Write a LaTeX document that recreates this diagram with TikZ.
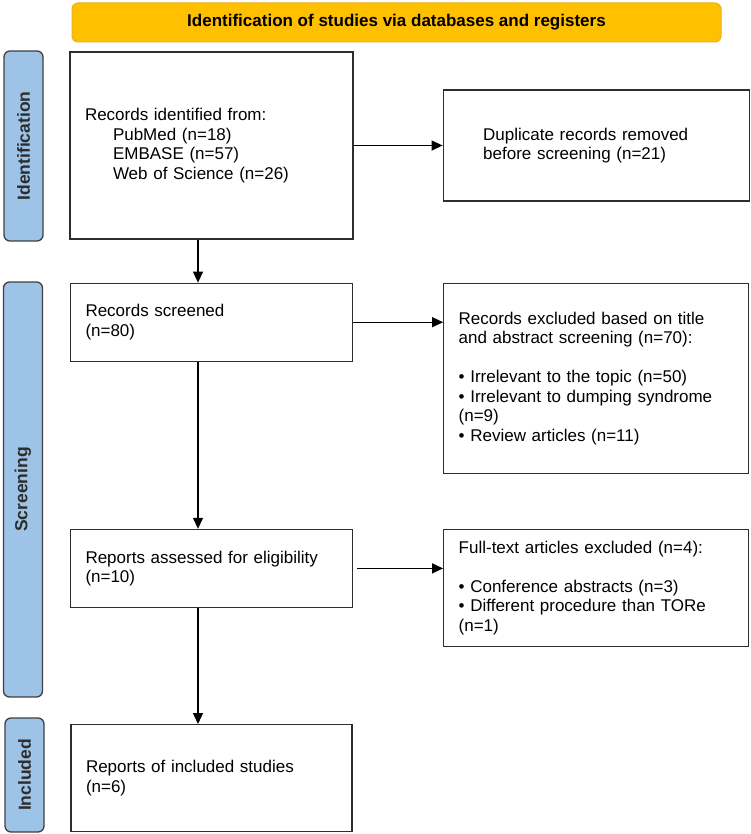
\documentclass[tikz,border=0pt]{standalone}
\usepackage{fontspec}
\setmainfont{Liberation Sans}
\usetikzlibrary{positioning,arrows.meta}
\definecolor{banner}{RGB}{255,192,0}
\definecolor{bannerline}{RGB}{236,176,30}
\definecolor{phasefill}{RGB}{157,195,230}
\definecolor{phaseline}{RGB}{64,64,64}
\definecolor{ink}{RGB}{45,45,45}

\begin{document}
\begin{tikzpicture}[x=1pt, y=-1pt,
    box/.style={draw=ink, line width=1.2pt, align=left, inner xsep=15pt, inner ysep=4pt,
                font=\fontsize{17}{19.5}\selectfont},
    phase/.style={draw=phaseline, fill=phasefill, line width=1.3pt, rounded corners=6pt, rotate=90,
                  minimum height=39pt, inner sep=0pt, font=\fontsize{17.5}{20}\selectfont\bfseries, text=ink},
    arr/.style={line width=1.3pt, color=black, -{Triangle[length=11pt,width=10pt]}}]
  \useasboundingbox (0,0) rectangle (751,834);
  \node[draw=bannerline, fill=banner, line width=1pt, rounded corners=6pt, minimum width=649pt,
        minimum height=39pt, font=\fontsize{17}{20}\selectfont\bfseries] (top) at (396.5,22.5)
        {Identification of studies via databases and registers};
  \node[phase, minimum width=190pt] (pid) at (23.5,146) {Identification};
  \node[phase, minimum width=415pt] (psc) at (23,489.5) {Screening};
  \node[phase, minimum width=114pt] (pin) at (24.5,775) {Included};
  \node[box, text width=253pt, minimum height=187pt] (r) at (211.5,145.5) {%
    Records identified from:\\
    \hspace*{28pt}PubMed (n=18)\\
    \hspace*{28pt}EMBASE (n=57)\\
    \hspace*{28pt}Web of Science (n=26)};
  \node[box, inner xsep=40pt, text width=226pt, minimum height=111pt, right=89pt of r] (d) {%
    Duplicate records removed\\ before screening (n=21)\\[-6pt]};
  \node[box, text width=252pt, minimum height=78pt, below=43pt of r] (s) {%
    Records screened\\ (n=80)};
  \node[box, text width=275pt, minimum height=190pt, right=90pt of s.north east, anchor=north west] (x) {%
    Records excluded based on title\\ and abstract screening (n=70):\\[19.5pt]
    • Irrelevant to the topic (n=50)\\
    • Irrelevant to dumping syndrome\\ (n=9)\\
    • Review articles (n=11)\\[-4pt]};
  \node[box, text width=252pt, minimum height=78pt, below=167pt of s] (e) {%
    Reports assessed for eligibility\\ (n=10)};
  \node[box, text width=275pt, minimum height=117pt, right=90pt of e.north east, anchor=north west] (f) {%
    Full-text articles excluded (n=4):\\[19.5pt]
    • Conference abstracts (n=3)\\
    • Different procedure than TORe\\ (n=1)};
  \node[box, text width=251pt, minimum height=107pt, below=116pt of e] (i) {%
    Reports of included studies\\ (n=6)};
  \coordinate (col) at (198,0);
  \draw[arr] (r) -- (d);
  \draw[arr] (r.south -| col) -- (s.north -| col);
  \draw[arr] (s.east) -- (s.east -| x.west);
  \draw[arr] (s.south -| col) -- (e.north -| col);
  \draw[arr, shorten <=4pt] (e.east) -- (e.east -| f.west);
  \draw[arr] (e.south -| col) -- (i.north -| col);
\end{tikzpicture}
\end{document}
